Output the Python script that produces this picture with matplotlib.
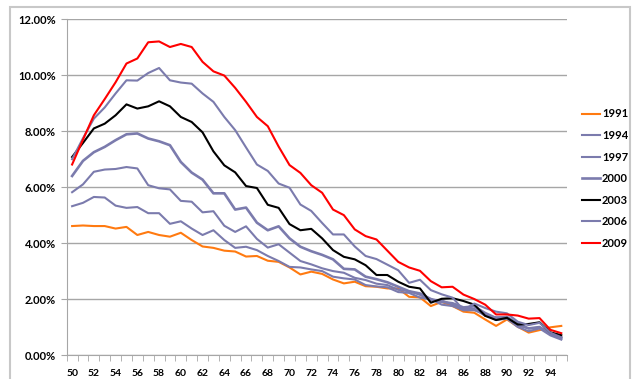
import matplotlib.pyplot as plt
from matplotlib.ticker import FormatStrFormatter, MultipleLocator
from matplotlib.patches import Rectangle

plt.rcParams['font.family'] = ['Lato', 'DejaVu Sans']
plt.rcParams['font.weight'] = 'bold'

# Idade (50 a 95) e taxa em % para cada ano
idades = list(range(50, 96))

t1991 = [4.61, 4.63, 4.61, 4.61, 4.52, 4.58, 4.29, 4.40, 4.29, 4.23,
         4.37, 4.11, 3.88, 3.83, 3.73, 3.70, 3.52, 3.54, 3.37, 3.33,
         3.13, 2.88, 2.98, 2.90, 2.70, 2.56, 2.62, 2.46, 2.44, 2.38,
         2.38, 2.08, 2.06, 1.75, 1.90, 1.75, 1.55, 1.51, 1.27, 1.04,
         1.27, 1.01, 0.80, 0.89, 0.99, 1.04]
t1994 = [5.32, 5.44, 5.65, 5.63, 5.34, 5.26, 5.29, 5.07, 5.07, 4.69,
         4.78, 4.52, 4.29, 4.46, 4.11, 3.83, 3.87, 3.75, 3.54, 3.36,
         3.15, 3.13, 3.06, 3.00, 2.80, 2.74, 2.70, 2.50, 2.45, 2.42,
         2.25, 2.22, 2.05, 2.00, 1.80, 1.75, 1.60, 1.60, 1.45, 1.25,
         1.30, 1.00, 0.85, 0.95, 0.70, 0.55]
t1997 = [5.82, 6.10, 6.55, 6.63, 6.65, 6.72, 6.67, 6.07, 5.96, 5.92,
         5.51, 5.48, 5.10, 5.14, 4.62, 4.40, 4.60, 4.15, 3.84, 3.96,
         3.66, 3.36, 3.24, 3.10, 3.00, 2.94, 2.76, 2.68, 2.55, 2.50,
         2.33, 2.28, 2.15, 1.95, 1.95, 1.80, 1.65, 1.65, 1.40, 1.35,
         1.35, 1.05, 0.95, 0.98, 0.80, 0.65]
t2000 = [6.40, 6.94, 7.25, 7.44, 7.68, 7.89, 7.92, 7.74, 7.64, 7.50,
         6.90, 6.52, 6.27, 5.78, 5.78, 5.20, 5.27, 4.73, 4.46, 4.60,
         4.17, 3.87, 3.71, 3.58, 3.42, 3.08, 3.06, 2.80, 2.71, 2.60,
         2.44, 2.28, 2.20, 2.00, 1.90, 1.85, 1.70, 1.74, 1.50, 1.32,
         1.36, 1.12, 0.95, 1.00, 0.76, 0.60]
t2003 = [7.08, 7.58, 8.10, 8.27, 8.57, 8.96, 8.81, 8.89, 9.07, 8.89,
         8.51, 8.33, 7.96, 7.28, 6.78, 6.53, 6.04, 5.97, 5.37, 5.26,
         4.68, 4.46, 4.51, 4.17, 3.75, 3.51, 3.42, 3.21, 2.86, 2.86,
         2.62, 2.44, 2.38, 1.87, 2.01, 2.03, 1.93, 1.80, 1.40, 1.25,
         1.33, 1.09, 1.11, 1.17, 0.81, 0.71]
t2006 = [7.00, 7.75, 8.45, 8.85, 9.35, 9.82, 9.81, 10.08, 10.26, 9.82,
         9.74, 9.70, 9.35, 9.05, 8.51, 8.04, 7.42, 6.81, 6.58, 6.13,
         5.98, 5.38, 5.15, 4.72, 4.31, 4.31, 3.88, 3.54, 3.43, 3.23,
         3.03, 2.58, 2.69, 2.32, 2.17, 2.05, 1.61, 1.84, 1.68, 1.55,
         1.49, 1.19, 1.07, 1.15, 0.80, 0.63]
t2009 = [6.81, 7.70, 8.57, 9.15, 9.75, 10.42, 10.60, 11.18, 11.21, 11.01,
         11.12, 11.01, 10.48, 10.14, 9.99, 9.55, 9.05, 8.51, 8.18, 7.45,
         6.79, 6.51, 6.07, 5.80, 5.20, 5.00, 4.49, 4.25, 4.13, 3.73,
         3.33, 3.13, 3.01, 2.64, 2.42, 2.44, 2.16, 2.00, 1.80, 1.45,
         1.45, 1.41, 1.30, 1.32, 0.90, 0.78]

anos = ['1991', '1994', '1997', '2000', '2003', '2006', '2009']
series = [t1991, t1994, t1997, t2000, t2003, t2006, t2009]
roxo = '#7B7BAD'
cores = ['#FF7A10', roxo, roxo, roxo, 'black', roxo, '#FF0000']
larguras = [1.5, 1.5, 1.5, 1.9, 1.5, 1.5, 1.5]

fig = plt.figure(figsize=(6.32, 3.79), dpi=100)
ax = fig.add_axes([0.1055, 0.0633, 0.7912, 0.8857])

# Moldura clara em volta do gráfico
fig.patches.append(Rectangle((10 / 632, -0.05), 620 / 632, 1.05 - 7 / 379,
                             transform=fig.transFigure, fill=False,
                             edgecolor='#C8C8C8', linewidth=1.5))

for ano, valores, cor, lw in zip(anos, series, cores, larguras):
    ax.plot(idades, valores, color=cor, linewidth=lw, label=ano)

ax.set_xlim(49.5, 95.5)
ax.set_ylim(0, 12)

ax.yaxis.set_major_locator(MultipleLocator(2))
ax.yaxis.set_major_formatter(FormatStrFormatter('%.2f%%'))
ax.grid(axis='y', color='#A6A6A6', linewidth=1)
ax.set_axisbelow(True)

# Rótulos a cada 2 idades, marcas entre as categorias
ax.set_xticks(idades[::2])
ax.set_xticks([i - 0.5 for i in idades] + [95.5], minor=True)
ax.tick_params(axis='x', which='major', length=0, pad=10, labelsize=7.5)
ax.tick_params(axis='x', which='minor', length=4, color='#A6A6A6')
ax.tick_params(axis='y', length=4, color='#A6A6A6', pad=4, labelsize=8)

for lado in ['top', 'right']:
    ax.spines[lado].set_visible(False)
for lado in ['left', 'bottom']:
    ax.spines[lado].set_color('#A6A6A6')

fig.legend(loc='upper left', bbox_to_anchor=(578 / 632, 1 - 104 / 379),
           frameon=False, fontsize=8, handlelength=1.6, handletextpad=0.15,
           labelspacing=0.95, borderaxespad=0)

fig.savefig('out.png', dpi=100)
